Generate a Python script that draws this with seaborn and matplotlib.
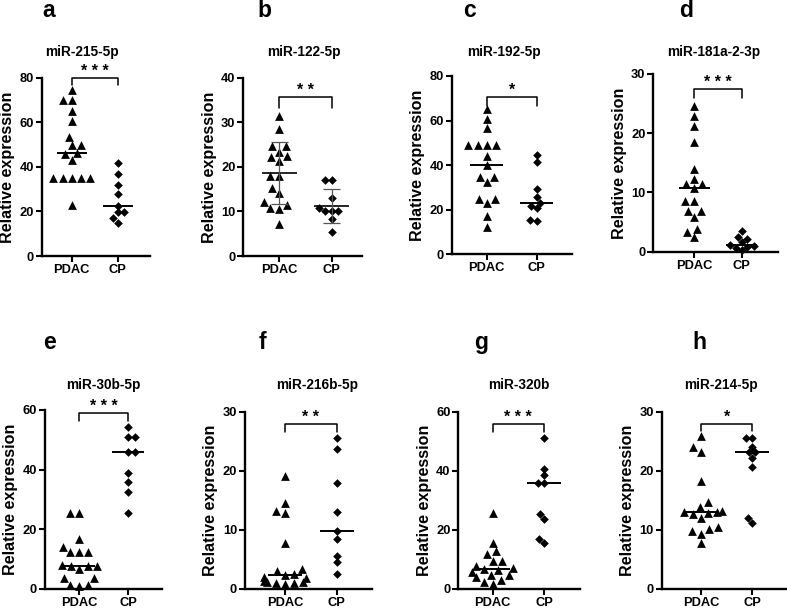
import numpy as np
import matplotlib
matplotlib.use("Agg")
import matplotlib.pyplot as plt
import seaborn as sns

# groups and panel labels
groups = ["PDAC", "CP"]
letters = ["a", "b", "c", "d", "e", "f", "g", "h"]
titles = ["miR-215-5p", "miR-122-5p", "miR-192-5p", "miR-181a-2-3p",
          "miR-30b-5p", "miR-216b-5p", "miR-320b", "miR-214-5p"]
stars = ["* * *", "* *", "*", "* * *", "* * *", "* *", "* * *", "*"]
ymax = [80, 40, 80, 30, 60, 30, 60, 30]
ystep = [20, 10, 20, 10, 20, 10, 20, 10]
# summary line: median everywhere, mean +/- SD in panel b
summary = ["median", "mean_sd", "median", "median", "median", "median", "median", "median"]

# relative expression values
pdac_a = [74.5, 70, 70, 65, 60.5, 53.5, 49.8, 49.8, 46.2, 45.6, 43, 34.8, 34.8, 34.8, 34.8, 34.8, 22.9]
cp_a = [41.9, 36.6, 31.8, 27.7, 22.6, 19.7, 19.7, 17.0, 15.0]
pdac_b = [31.4, 28.4, 24.7, 24.7, 23.4, 22.4, 22.1, 21.3, 18.0, 18.0, 15.3, 14.1, 12.2, 11.4, 10.7, 10.5, 7.1]
cp_b = [17.0, 17.0, 12.9, 10.7, 10.2, 10.2, 10.2, 8.4, 5.3]
pdac_c = [65, 60.7, 56.5, 49, 49, 49, 49, 44.2, 40, 34.8, 34.8, 32.2, 24.6, 24.6, 22.8, 17.1, 12]
cp_c = [44.5, 41.5, 29.2, 25.8, 22.8, 21.6, 20.5, 15.5, 14.8]
pdac_d = [24.6, 22.9, 21.2, 18.6, 14.0, 12.2, 11.4, 11.4, 10.7, 8.6, 8.6, 6.9, 6.9, 5.9, 3.9, 3.4, 2.5]
cp_d = [3.5, 2.4, 2.1, 1.6, 1.1, 1.0, 0.8, 0.6, 0.3]
pdac_e = [25.3, 25.3, 16.6, 14.1, 12.4, 12.4, 12.4, 8.0, 7.7, 7.7, 7.5, 6.5, 3.5, 3.5, 1.2, 1.2, 1.0]
cp_e = [54.4, 50.8, 50.8, 46, 46, 38.7, 35.9, 32.6, 25.3]
pdac_f = [19.1, 14.6, 13.2, 12.8, 7.7, 3.3, 3.0, 2.5, 2.3, 2.0, 1.8, 1.3, 1.2, 1.2, 1.0, 0.9, 0.8]
cp_f = [25.5, 23.7, 18.0, 13.0, 9.7, 8.4, 5.6, 4.5, 2.5]
pdac_g = [25.5, 15.6, 12.8, 11.8, 9.5, 9.5, 7.7, 7.0, 6.6, 6.2, 5.8, 4.5, 4.5, 4.0, 3.0, 2.4, 1.6]
cp_g = [51.0, 40.7, 38.6, 36.0, 36.0, 25.4, 23.7, 16.7, 15.6]
pdac_h = [25.8, 24.0, 23.2, 18.2, 14.7, 13.8, 13.1, 13.0, 13.0, 12.9, 12.7, 11.9, 10.4, 10.1, 9.7, 9.3, 7.8]
cp_h = [25.5, 25.5, 24.0, 23.1, 23.1, 22.2, 20.7, 11.9, 11.1]

pdac_all = [pdac_a, pdac_b, pdac_c, pdac_d, pdac_e, pdac_f, pdac_g, pdac_h]
cp_all = [cp_a, cp_b, cp_c, cp_d, cp_e, cp_f, cp_g, cp_h]

# layout in pixels: left, right, top, bottom, pdac x, cp x, title cx, title baseline,
# letter x, letter baseline, bracket y (data), bracket drop (data)
layout = [
    (41.7, 150, 77.7, 256, 71.7, 117.7, 82, 56, 49, 17, 80, 3.3),
    (243.3, 361.7, 77.7, 256, 279.3, 331.7, 304, 56, 264, 17, 35.6, 2.3),
    (451.7, 571.7, 76, 254, 486.7, 536.7, 504, 56, 470, 17, 70.4, 3.9),
    (653.3, 778, 74, 251.7, 694.3, 741.7, 714, 56, 686, 17, 27.4, 1.4),
    (45, 161.7, 410, 588.7, 79.3, 128.3, 103, 389, 49, 349, 58.9, 2.5),
    (245, 371.7, 411.7, 588.7, 285, 336.7, 317, 389, 262, 349, 27.9, 1.3),
    (458.3, 580, 411.7, 588.7, 492.7, 544, 519, 389, 481, 349, 55.8, 2.6),
    (661.7, 787, 411.7, 588.7, 701, 752.3, 721, 389, 699, 349, 27.9, 1.2),
]

sns.set_style("ticks")
plt.rcParams["font.family"] = ["Liberation Sans", "DejaVu Sans"]
plt.rcParams["font.weight"] = "bold"
plt.rcParams["text.color"] = "black"
plt.rcParams["axes.labelcolor"] = "black"

W, H = 787, 612
fig = plt.figure(figsize=(W / 100, H / 100), dpi=100)

for i in range(8):
    L, R, T, B, px, cx, tcx, tby, lx, lby, by, bd = layout[i]
    ax = fig.add_axes([L / W, 1 - B / H, (R - L) / W, (B - T) / H])
    pdac = pdac_all[i]
    cp = cp_all[i]

    sns.swarmplot(x=["PDAC"] * len(pdac), y=pdac, order=groups, marker="^",
                  color="black", size=6.3, linewidth=0, ax=ax, clip_on=False)
    sns.swarmplot(x=["CP"] * len(cp), y=cp, order=groups, marker="D",
                  color="black", size=4.4, linewidth=0, ax=ax, clip_on=False)

    for pos, vals in enumerate([pdac, cp]):
        v = np.array(vals)
        if summary[i] == "median":
            ax.hlines(np.median(v), pos - 0.33, pos + 0.33, color="black", lw=1.4, zorder=5)
        else:
            m = v.mean()
            sd = v.std(ddof=1)
            ax.hlines(m, pos - 0.33, pos + 0.33, color="black", lw=1.2, zorder=5)
            ax.vlines(pos, m - sd, m + sd, color="#555555", lw=0.9, zorder=5)
            ax.hlines([m - sd, m + sd], pos - 0.16, pos + 0.16, color="#555555", lw=0.9, zorder=5)

    sp = cx - px
    ax.set_xlim((L - px) / sp, (R - px) / sp)
    ax.set_ylim(0, ymax[i])
    ax.set_yticks(np.arange(0, ymax[i] + 1, ystep[i]))
    ax.set_xticks([0, 1])
    ax.set_xticklabels(groups)
    ax.set_xlabel("")
    ax.set_ylabel("Relative expression", fontsize=11.6, fontweight="bold")
    ax.yaxis.set_label_coords(-26.5 / (R - L), 0.5)
    ax.tick_params(axis="both", length=4.5, width=1.5, labelsize=9.3, pad=1.2, colors="black")
    for lab in ax.get_xticklabels() + ax.get_yticklabels():
        lab.set_fontweight("bold")
    sns.despine(ax=ax)
    for s in ["left", "bottom"]:
        ax.spines[s].set_linewidth(1.7)
        ax.spines[s].set_color("black")

    # significance bracket
    ax.plot([0, 0, 1, 1], [by - bd, by, by, by - bd], color="black", lw=1.1, clip_on=False)
    ax.annotate(stars[i], xy=(0.5, by), xytext=(0, 1.5), textcoords="offset points",
                ha="center", va="baseline", fontsize=11.5, fontweight="bold",
                annotation_clip=False)

    fig.text(tcx / W, 1 - tby / H, titles[i], ha="center", va="baseline",
             fontsize=9.8, fontweight="bold")
    fig.text(lx / W, 1 - lby / H, letters[i], ha="center", va="baseline",
             fontsize=16.5, fontweight="bold")

fig.savefig("out.png", dpi=100)
